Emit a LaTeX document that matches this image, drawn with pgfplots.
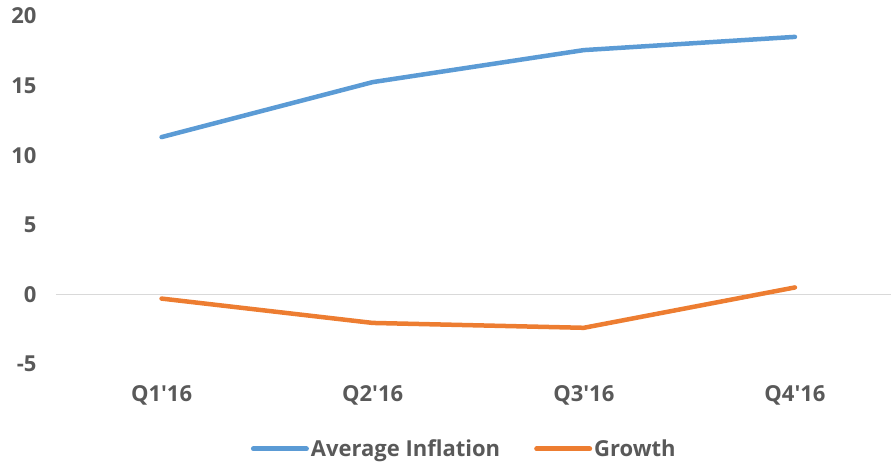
\documentclass[border=0pt]{standalone}
\usepackage{fontspec}
\setmainfont{Open Sans}
\usepackage{pgfplots}
\pgfplotsset{compat=1.18}
\definecolor{txt}{HTML}{595959}
\definecolor{blueL}{HTML}{5B9BD5}
\definecolor{orangeL}{HTML}{ED7D31}
\definecolor{zero}{HTML}{D9D9D9}
\begin{document}
\begin{tikzpicture}
\begin{axis}[
  name=ax,
  scale only axis,
  width=835pt, height=348pt,
  xmin=-0.5, xmax=3.455,
  ymin=-5, ymax=20,
  ytick={-5,0,5,10,15,20},
  xtick={0,1,2,3},
  xticklabels={Q1\textquotesingle16,Q2\textquotesingle16,Q3\textquotesingle16,Q4\textquotesingle16},
  axis line style={draw=none},
  tick style={draw=none},
  /pgf/number format/assume math mode=true,
  ticklabel style={font=\fontsize{22}{25}\selectfont\bfseries, text=txt},
  yticklabel style={xshift=-16pt},
  xticklabel style={yshift=-18pt},
  extra y ticks={0},
  extra y tick labels={},
  extra y tick style={ymajorgrids=true, major grid style={draw=zero, line width=1.5pt}},
  legend columns=2,
  legend style={draw=none, fill=none, at={(0.489,-0.244)}, anchor=center,
    font=\fontsize{22}{25}\selectfont\bfseries, text=txt,
    /tikz/every even column/.append style={column sep=32pt}},
  legend image code/.code={\draw[#1, line width=5pt, line cap=round] (0pt,0pt) -- (53pt,0pt);},
]
\addplot[blueL, line width=4.5pt, line cap=round, line join=round] coordinates {(0,11.3) (1,15.25) (2,17.55) (3,18.5)};
\addlegendentry{Average Inflation}
\addplot[orangeL, line width=4.5pt, line cap=round, line join=round] coordinates {(0,-0.3) (1,-2.05) (2,-2.4) (3,0.5)};
\addlegendentry{Growth}
\end{axis}
\pgfresetboundingbox
\path ([xshift=-56pt,yshift=-101pt]ax.south west) rectangle ([yshift=16pt]ax.north east);
\end{tikzpicture}
\end{document}
